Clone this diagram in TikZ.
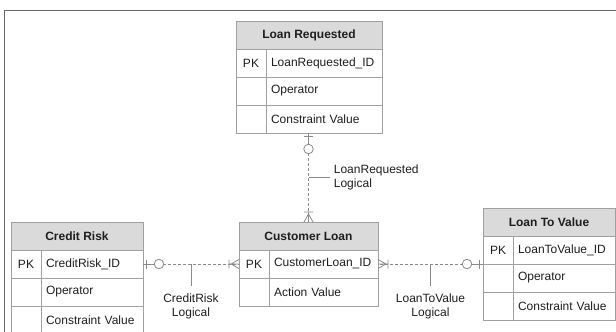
\documentclass[tikz,border=0pt]{standalone}
\usepackage{fontspec}
\setmainfont{Liberation Sans}
\usetikzlibrary{positioning,decorations.markings}

\definecolor{inkgray}{HTML}{1E1E1E}
\definecolor{gridgray}{HTML}{A0A0A0}
\definecolor{headgray}{HTML}{DADADA}
\definecolor{linkgray}{HTML}{8A8A8A}
\definecolor{framegray}{HTML}{666666}

\begin{document}
\begin{tikzpicture}[x=1pt,y=-1pt,node distance=0pt,
    font=\fontsize{12}{14}\selectfont, text=inkgray,
    cell/.style={draw=gridgray, line width=0.8pt, minimum height=28pt,
                 inner sep=0pt, outer sep=0pt},
    title/.style={cell, fill=headgray, font=\fontsize{12}{14}\selectfont\bfseries},
    key/.style={cell, minimum width=30pt},
    field/.style={cell, text width=#1, inner xsep=5pt, align=left},
    link/.style={draw=linkgray, line width=0.8pt, dash pattern=on 3pt off 2pt},
    leader/.style={draw=linkgray, line width=0.8pt},
    zero or one/.style={postaction={decorate, decoration={markings,
        mark=at position 0pt with {\draw[solid, linkgray, line width=0.8pt]
            (0,0) -- (11pt,0) (3.5pt,-4.5pt) -- (3.5pt,4.5pt);},
        mark=at position 16pt with {\draw[solid, linkgray, line width=0.8pt, fill=white]
            (0,0) circle (4.75pt);}}}},
    one or many/.style={postaction={decorate, decoration={markings,
        mark=at position -10pt with {\draw[solid, linkgray, line width=0.8pt]
            (0,-4.5pt) -- (0,4.5pt) (0,0) -- (10pt,0)
            (2pt,0) -- (10pt,4.5pt) (2pt,0) -- (10pt,-4.5pt);}}}}]

\useasboundingbox (0,0) rectangle (616,332);

% page frame
\draw[framegray, line width=1.2pt] (616,10.5) -- (4.5,10.5) -- (4.5,332);

% Loan Requested
\node[title, minimum width=146pt, anchor=north west] (lr) at (236,21) {Loan Requested};
\node[key, anchor=north west] (lr_k1) at (lr.south west) {PK};
\node[field=106pt, right=of lr_k1] (lr_f1) {LoanRequested\_ID};
\node[key, below=of lr_k1] (lr_k2) {};
\node[field=106pt, right=of lr_k2] (lr_f2) {Operator};
\node[key, below=of lr_k2] (lr_k3) {};
\node[field=106pt, right=of lr_k3] (lr_f3) {Constraint Value};

% Customer Loan
\node[title, minimum width=139pt, anchor=north west] (cl) at (239,222) {Customer Loan};
\node[key, anchor=north west] (cl_k1) at (cl.south west) {PK};
\node[field=99pt, right=of cl_k1] (cl_f1) {CustomerLoan\_ID};
\node[key, below=of cl_k1] (cl_k2) {};
\node[field=99pt, right=of cl_k2] (cl_f2) {Action Value};

% Credit Risk
\node[title, minimum width=132pt, anchor=north west] (cr) at (11,222) {Credit Risk};
\node[key, anchor=north west] (cr_k1) at (cr.south west) {PK};
\node[field=92pt, right=of cr_k1] (cr_f1) {CreditRisk\_ID};
\node[key, below=of cr_k1] (cr_k2) {};
\node[field=92pt, right=of cr_k2] (cr_f2) {Operator};
\node[key, below=of cr_k2] (cr_k3) {};
\node[field=92pt, right=of cr_k3] (cr_f3) {Constraint Value};

% Loan To Value
\node[title, minimum width=132pt, anchor=north west] (ltv) at (483,208) {Loan To Value};
\node[key, anchor=north west] (ltv_k1) at (ltv.south west) {PK};
\node[field=92pt, right=of ltv_k1] (ltv_f1) {LoanToValue\_ID};
\node[key, below=of ltv_k1] (ltv_k2) {};
\node[field=92pt, right=of ltv_k2] (ltv_f2) {Operator};
\node[key, below=of ltv_k2] (ltv_k3) {};
\node[field=92pt, right=of ltv_k3] (ltv_f3) {Constraint Value};

% relationships
\draw[link, zero or one, one or many] (cl.north |- lr_f3.south) -- coordinate (lr_mid) (cl.north);
\draw[link, zero or one, one or many] (cr_f1.east) -- coordinate (cr_mid) (cl_k1.west);
\draw[link, zero or one, one or many] (ltv_k1.south west) -- coordinate (ltv_mid) (cl_f1.east);

\draw[leader] (lr_mid) -- ++(21,0) node[right, align=left, inner sep=4pt] (lr_lbl) {LoanRequested\\Logical};
\draw[leader] (cr_mid) -- ++(0,22) node[below=4pt, align=center] (cr_lbl) {CreditRisk\\Logical};
\draw[leader] (ltv_mid) -- ++(0,22) node[below=4pt, align=center] (ltv_lbl) {LoanToValue\\Logical};

\end{tikzpicture}
\end{document}
